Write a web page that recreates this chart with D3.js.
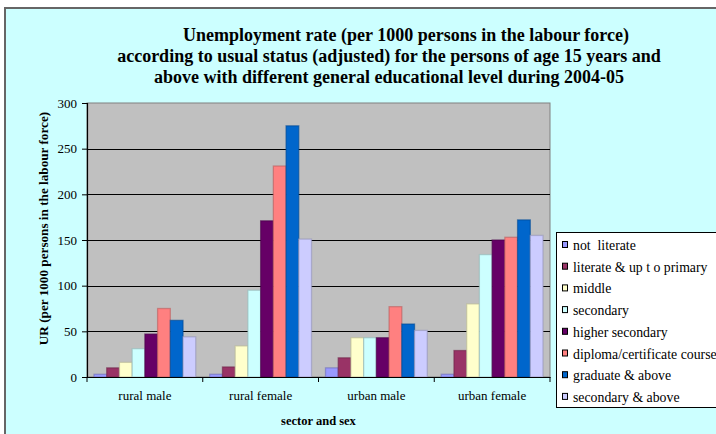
<!DOCTYPE html>
<html>
<head>
<meta charset="utf-8">
<script src="https://cdn.jsdelivr.net/npm/d3@7"></script>
<style>
  html, body { margin: 0; padding: 0; background: #ffffff; }
  svg { display: block; }
</style>
</head>
<body>
<svg id="chart" width="716" height="434"></svg>
<script>
const categories = ["rural male", "rural female", "urban male", "urban female"];
const seriesNames = ["not  literate", "literate & up t o primary", "middle", "secondary",
  "higher secondary", "diploma/certificate course", "graduate & above", "secondary & above"];
const seriesColors = ["#9999FF", "#993366", "#FFFFCC", "#CCFFFF", "#660066", "#FF8080", "#0066CC", "#CCCCFF"];
const notLiterate      = [3, 3, 10, 3];
const literatePrimary  = [10, 11, 21, 29];
const middle           = [16, 34, 43, 80];
const secondary        = [31, 95, 43, 134];
const higherSecondary  = [47, 171, 43, 150];
const diploma          = [75, 231, 77, 153];
const graduate         = [62, 275, 58, 172];
const secondaryAbove   = [44, 151, 51, 155];
const seriesValues = [notLiterate, literatePrimary, middle, secondary, higherSecondary, diploma, graduate, secondaryAbove];
const yTicks = [0, 50, 100, 150, 200, 250, 300];
const titleLines = ["Unemployment rate (per 1000 persons in the labour force)",
  "according to usual status (adjusted) for the persons of age 15 years and",
  "above with different general educational level during 2004-05"];
const yTitle = "UR (per 1000 persons in the labour force)";
const xTitle = "sector and sex";

const FONT = "'Liberation Serif', 'DejaVu Serif', 'Times New Roman', serif";
const svg = d3.select("#chart");

// page frame
svg.append("rect").attr("x", 5).attr("y", 8).attr("width", 720).attr("height", 440)
  .attr("fill", "#CCFFFF").attr("stroke", "#666666").attr("stroke-width", 2);

// title
const titleX = [406, 389, 389];
const titleY = [41, 62, 83];
titleLines.forEach((t, i) => {
  svg.append("text").attr("x", titleX[i]).attr("y", titleY[i]).attr("text-anchor", "middle")
    .style("font-family", FONT).style("font-size", "18px").style("font-weight", "bold").text(t);
});

const plot = { left: 87, right: 550, top: 103, bottom: 377 };

const x0 = d3.scaleBand().domain(categories).range([plot.left, plot.right]).paddingInner(0).paddingOuter(0);
const x1 = d3.scaleBand().domain(d3.range(seriesNames.length)).range([0, x0.bandwidth()]).paddingOuter(0.55).paddingInner(0);
const y = d3.scaleLinear().domain([0, 300]).range([plot.bottom, plot.top]);

// plot background
svg.append("rect").attr("x", plot.left).attr("y", plot.top)
  .attr("width", plot.right - plot.left).attr("height", plot.bottom - plot.top)
  .attr("fill", "#C0C0C0").attr("stroke", "#808080").attr("stroke-width", 1);

// gridlines
svg.append("g").selectAll("line").data(yTicks.filter(d => d > 0 && d < 300)).join("line")
  .attr("x1", plot.left).attr("x2", plot.right)
  .attr("y1", d => Math.round(y(d)) + 0.5).attr("y2", d => Math.round(y(d)) + 0.5)
  .attr("stroke", "#000").attr("stroke-width", 1.2);

// bars
const groups = svg.append("g").selectAll("g").data(categories).join("g")
  .attr("transform", d => `translate(${x0(d)},0)`);
groups.selectAll("rect").data((c, ci) => seriesValues.map((s, si) => ({ si, v: s[ci] }))).join("rect")
  .attr("x", d => x1(d.si)).attr("width", x1.bandwidth())
  .attr("y", d => y(d.v)).attr("height", d => y(0) - y(d.v))
  .attr("fill", d => seriesColors[d.si])
  .attr("stroke", d => d3.color(seriesColors[d.si]).darker(0.9))
  .attr("stroke-opacity", 0.6)
  .attr("stroke-width", 1.3);

// y axis
const yAxis = svg.append("g").attr("transform", `translate(${plot.left},0)`)
  .call(d3.axisLeft(y).tickValues(yTicks).tickSize(5).tickPadding(5));
yAxis.select(".domain").attr("stroke", "#000").attr("stroke-width", 1.2);
yAxis.selectAll(".tick line").attr("stroke", "#000");
yAxis.selectAll(".tick text").style("font-family", FONT).style("font-size", "13px").attr("fill", "#000");

// x axis
const xAxis = svg.append("g").attr("transform", `translate(0,${plot.bottom})`)
  .call(d3.axisBottom(x0).tickSize(0).tickPadding(14));
xAxis.select(".domain").attr("stroke", "#000").attr("stroke-width", 1.2);
xAxis.selectAll(".tick text").style("font-family", FONT).style("font-size", "13px").attr("fill", "#000");
// category boundary ticks
svg.append("g").selectAll("line").data(categories.concat(["end"])).join("line")
  .attr("x1", (d, i) => i < categories.length ? x0(d) : plot.right)
  .attr("x2", (d, i) => i < categories.length ? x0(d) : plot.right)
  .attr("y1", plot.bottom).attr("y2", plot.bottom + 5)
  .attr("stroke", "#000");

// axis titles
svg.append("text").attr("transform", `translate(48,228.5) rotate(-90)`)
  .attr("text-anchor", "middle").style("font-family", FONT).style("font-size", "13.2px").style("font-weight", "bold").text(yTitle);
svg.append("text").attr("x", (plot.left + plot.right) / 2).attr("y", 425)
  .attr("text-anchor", "middle").style("font-family", FONT).style("font-size", "12.5px").style("font-weight", "bold").text(xTitle);

// legend
const legend = svg.append("g");
legend.append("rect").attr("x", 556.5).attr("y", 232.5).attr("width", 180).attr("height", 175)
  .attr("fill", "#ffffff").attr("stroke", "#000").attr("stroke-width", 1);
const item = legend.selectAll("g").data(seriesNames).join("g")
  .attr("transform", (d, i) => `translate(0,${250 + i * 21.7})`);
item.append("rect").attr("x", 562.5).attr("y", -8.5).attr("width", 5).attr("height", 6)
  .attr("fill", (d, i) => seriesColors[i]).attr("stroke", "#000").attr("stroke-width", 1);
item.append("text").attr("x", 573).attr("y", 0).style("font-family", FONT).style("font-size", "13.8px").style("white-space", "pre").text(d => d);
</script>
</body>
</html>
